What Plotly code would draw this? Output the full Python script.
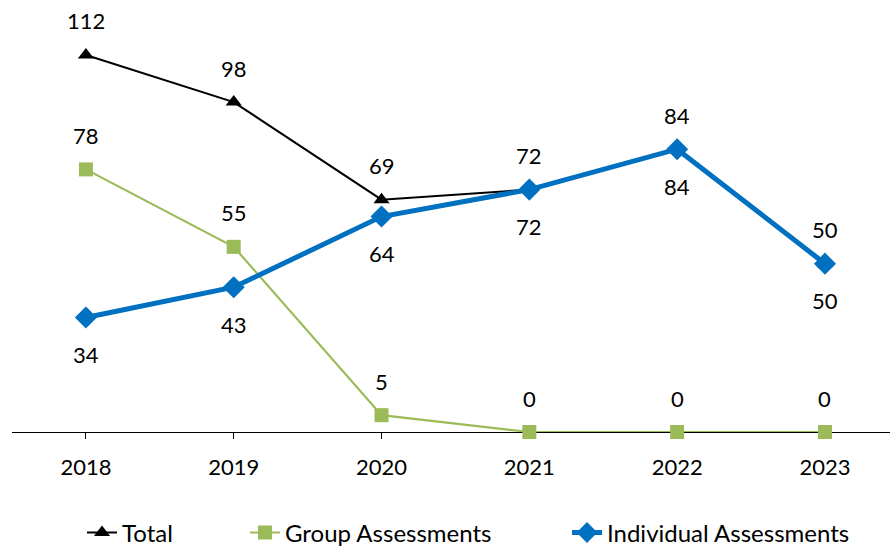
import plotly.graph_objects as go

years = ["2018", "2019", "2020", "2021", "2022", "2023"]
total = [112, 98, 69, 72, 84, 50]
group_assessments = [78, 55, 5, 0, 0, 0]
individual_assessments = [34, 43, 64, 72, 84, 50]

FONT = "Lato, 'Open Sans', sans-serif"
BLACK = "#000000"
GREEN = "#9BBB59"
BLUE = "#0070C0"

fig = go.Figure()

fig.add_trace(go.Scatter(
    x=years, y=total, name="Total", mode="lines+markers",
    line=dict(color=BLACK, width=2),
    marker=dict(symbol="triangle-up", size=14, color=BLACK),
    cliponaxis=False, legend="legend",
))
fig.add_trace(go.Scatter(
    x=years, y=group_assessments, name="Group Assessments", mode="lines+markers",
    line=dict(color=GREEN, width=2.2),
    marker=dict(symbol="square", size=14, color=GREEN),
    cliponaxis=False, legend="legend2",
))
fig.add_trace(go.Scatter(
    x=years, y=individual_assessments, name="Individual Assessments", mode="lines+markers",
    line=dict(color=BLUE, width=5),
    marker=dict(symbol="diamond", size=17, color=BLUE),
    cliponaxis=False, legend="legend3",
))

# value labels: totals and group counts above, individual counts below.
# x is given as the category index so year-like names are not read as numbers.
annotations = []
for i, v in enumerate(total):
    annotations.append(dict(x=i, y=v, text=str(v), yshift=34))
for i, v in enumerate(group_assessments):
    annotations.append(dict(x=i, y=v, text=str(v), yshift=34))
for i, v in enumerate(individual_assessments):
    annotations.append(dict(x=i, y=v, text=str(v), yshift=-37))
for a in annotations:
    a.update(xref="x", yref="y", showarrow=False,
             font=dict(family=FONT, size=22, color=BLACK))

legend_font = dict(family=FONT, size=24, color=BLACK)


def legend_at(x):
    return dict(orientation="h", x=x, xanchor="left",
                yref="container", y=0.024, yanchor="middle",
                font=legend_font, bgcolor="rgba(0,0,0,0)")


fig.update_layout(
    width=890, height=546,
    margin=dict(l=12, r=0, t=28, b=114),
    paper_bgcolor="white", plot_bgcolor="white",
    font=dict(family=FONT, size=22, color=BLACK),
    annotations=annotations,
    showlegend=True,
    legend=legend_at((82 - 12) / 878),
    legend2=legend_at((245 - 12) / 878),
    legend3=legend_at((567 - 12) / 878),
)
fig.update_xaxes(
    type="category", range=[-0.5, 5.44],
    showline=True, linecolor="#000000", linewidth=1,
    ticks="outside", ticklen=6, tickcolor="#000000", tickwidth=1,
    ticklabelstandoff=10, layer="below traces",
    showgrid=False, zeroline=False,
    tickfont=dict(family=FONT, size=22, color=BLACK),
)
fig.update_yaxes(range=[0, 120], showline=False, showticklabels=False, ticks="",
                 showgrid=False, zeroline=False)

fig.write_html("out.html")
